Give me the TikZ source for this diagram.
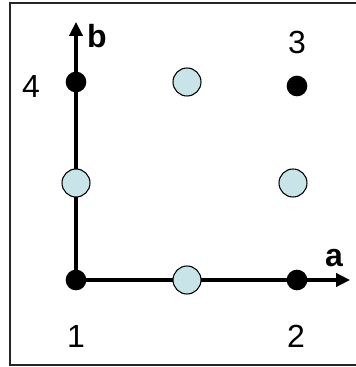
\documentclass[tikz,border=0pt]{standalone}
\usepackage{fontspec}
\setmainfont{Liberation Sans}
\usetikzlibrary{arrows.meta,positioning}
\definecolor{paleblue}{RGB}{200,228,232}

\begin{document}
\begin{tikzpicture}[x=0.75pt,y=-0.75pt,
  v/.style={circle,fill=black,inner sep=0pt,minimum size=15.5pt},
  c/.style={circle,draw=black,line width=0.8pt,fill=paleblue,inner sep=0pt,minimum size=21pt},
  lab/.style={font=\fontsize{24}{28}\selectfont},
  blab/.style={font=\fontsize{24}{28}\selectfont\bfseries},
  axis/.style={line width=2.4pt,-{Triangle[length=10.5pt,width=10pt]}}]
  \useasboundingbox (0,0) rectangle (355,367);
  \draw[black!85,line width=0.9pt] (10,3) rectangle (358,365);
  % corners of the square
  \coordinate (p1) at (76,280);
  \coordinate (p2) at (297,280);
  \coordinate (p3) at (297,86);
  \coordinate (p4) at (76,82);
  \coordinate (tipa) at (350,280);
  \coordinate (tipb) at (76,22);
  \draw[axis] (p1) -- (tipa);
  \draw[axis] (p1) -- (tipb);
  \foreach \k in {1,...,4} {
    \node[v] (v\k) at (p\k) {};
  }
  % midpoints
  \node[c] (m12) at (187,280) {};
  \node[c] (m23) at (293,183) {};
  \node[c] (m34) at (187,82) {};
  \node[c] (m41) at (76,183) {};
  \node[lab] (l1) at (76,336) {1};
  \node[lab] (l2) at (296,336) {2};
  \node[lab] (l3) at (297,42) {3};
  \node[lab] (l4) at (31,86) {4};
  \node[blab] (la) at (334,258) {a};
  \node[blab] (lb) at (97,36) {b};
\end{tikzpicture}
\end{document}
